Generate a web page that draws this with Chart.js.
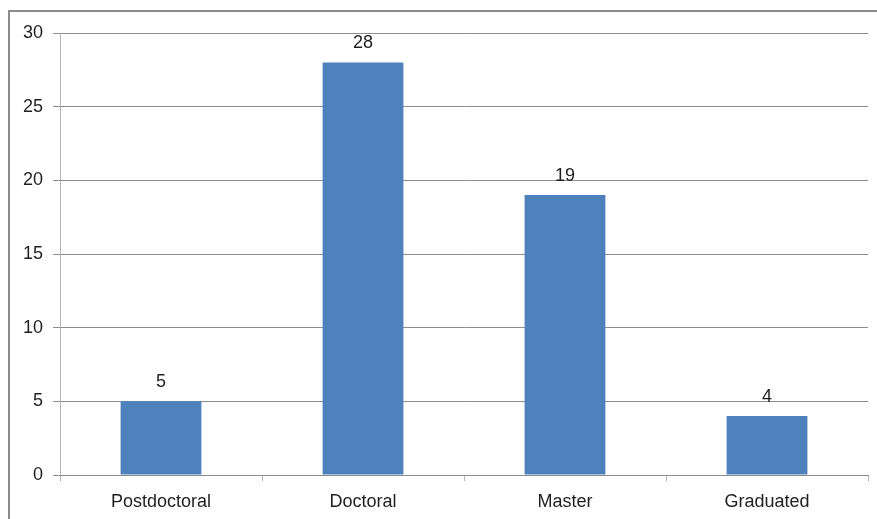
<!DOCTYPE html>
<html>
<head>
<meta charset="utf-8">
<script src="https://cdn.jsdelivr.net/npm/chart.js@4.4.0/dist/chart.umd.min.js"></script>
<style>
  html, body { margin: 0; padding: 0; background: #fff; overflow: hidden; }
  #wrap { position: relative; width: 877px; height: 519px; }
  #frame { position: absolute; left: 8px; top: 10px; width: 900px; height: 540px;
           border: 2px solid #8a8a8a; box-sizing: border-box; }
  canvas { position: absolute; left: 0; top: 0; }
</style>
</head>
<body>
<div id="wrap">
  <div id="frame"></div>
  <canvas id="c" width="877" height="519"></canvas>
</div>
<script>
const categories = ["Postdoctoral", "Doctoral", "Master", "Graduated"];
const values = [5, 28, 19, 4];
const yTicks = [0, 5, 10, 15, 20, 25, 30];

const FONT = "'Liberation Sans', Arial, sans-serif";

const valueLabels = {
  id: 'valueLabels',
  afterDatasetsDraw(chart) {
    const ctx = chart.ctx;
    const meta = chart.getDatasetMeta(0);
    ctx.save();
    ctx.font = "18px " + FONT;
    ctx.fillStyle = "#1f1f1f";
    ctx.textAlign = "center";
    ctx.textBaseline = "bottom";
    meta.data.forEach((bar, i) => {
      ctx.fillText(String(values[i]), bar.x, bar.y - 10);
    });
    ctx.restore();
  }
};

new Chart(document.getElementById('c'), {
  type: 'bar',
  data: {
    labels: categories,
    datasets: [{
      data: values,
      backgroundColor: '#4f81bd',
      borderWidth: 0,
      categoryPercentage: 0.8,
      barPercentage: 0.5
    }]
  },
  options: {
    responsive: false,
    animation: false,
    devicePixelRatio: 1,
    layout: { padding: { left: 0, top: 33, right: 9, bottom: 0 } },
    plugins: { legend: { display: false }, tooltip: { enabled: false } },
    scales: {
      x: {
        offset: true,
        grid: { offset: true, drawOnChartArea: false, drawTicks: true, tickLength: 6, color: '#b5b5b5', lineWidth: 1 },
        border: { display: true, color: '#8c8c8c' },
        ticks: { font: { family: FONT, size: 18 }, color: '#1f1f1f', padding: 10, maxRotation: 0 },
        afterFit(s) { s.height = 44; }
      },
      y: {
        min: 0, max: 30,
        afterBuildTicks(s) { s.ticks = yTicks.map(v => ({ value: v })); },
        grid: { color: '#8c8c8c', lineWidth: 1, tickLength: 7, drawTicks: true },
        border: { display: true, color: '#b5b5b5' },
        ticks: { font: { family: FONT, size: 18 }, color: '#1f1f1f', padding: 10 },
        afterFit(s) { s.width = 60; }
      }
    }
  },
  plugins: [valueLabels]
});
</script>
</body>
</html>
